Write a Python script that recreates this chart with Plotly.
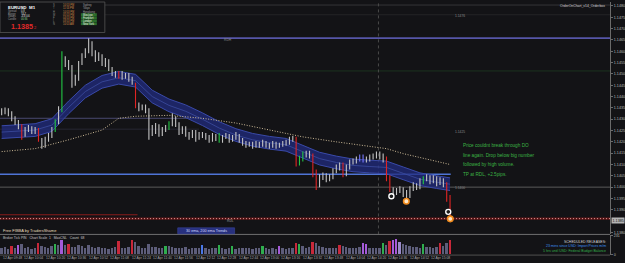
import pandas as pd
import plotly.graph_objects as go

# ---------------- data ----------------
SYMBOL = "EURUSD"
TIMEFRAME = "M1"
BID_TEXT = "1.1385"
BID_EXTRA = "2"
BID_PRICE = 1.13852

bar_start = "2016-04-12 09:48:30"
bar_step_seconds = 150

bar_high = [
    1.14348, 1.14352, 1.14348, 1.14335, 1.14313, 1.14296, 1.14278, 1.14265, 1.14274, 1.14269,
    1.14265, 1.14261, 1.14217, 1.14222, 1.14239, 1.14265, 1.14300, 1.14357, 1.14600, 1.14578,
    1.14561, 1.14539, 1.14496, 1.14557, 1.14591, 1.14613, 1.14657, 1.14644, 1.14604, 1.14596,
    1.14587, 1.14570, 1.14565, 1.14530, 1.14513, 1.14513, 1.14513, 1.14504, 1.14504, 1.14487,
    1.14461, 1.14374, 1.14365, 1.14365, 1.14348, 1.14274, 1.14283, 1.14278, 1.14265, 1.14274,
    1.14291, 1.14326, 1.14313, 1.14287, 1.14269, 1.14269, 1.14243, 1.14252, 1.14252, 1.14243,
    1.14243, 1.14239, 1.14230, 1.14239, 1.14235, 1.14239, 1.14230, 1.14239, 1.14235, 1.14230,
    1.14243, 1.14235, 1.14217, 1.14204, 1.14200, 1.14200, 1.14204, 1.14200, 1.14209, 1.14204,
    1.14196, 1.14204, 1.14200, 1.14196, 1.14204, 1.14209, 1.14222, 1.14226, 1.14222, 1.14139,
    1.14157, 1.14161, 1.14161, 1.14148, 1.14078, 1.14057, 1.14065, 1.14061, 1.14057, 1.14083,
    1.14100, 1.14109, 1.14109, 1.14100, 1.14122, 1.14126, 1.14135, 1.14144, 1.14144, 1.14135,
    1.14144, 1.14148, 1.14157, 1.14157, 1.14148, 1.14135, 1.14052, 1.14000, 1.13996, 1.14004,
    1.14000, 1.13987, 1.14004, 1.14022, 1.14017, 1.14039, 1.14048, 1.14057, 1.14052, 1.14052,
    1.14048, 1.14044, 1.14039, 1.14022, 1.13965]

bar_low = [
    1.14317, 1.14322, 1.14313, 1.14291, 1.14274, 1.14256, 1.14209, 1.14222, 1.14243, 1.14235,
    1.14235, 1.14200, 1.14170, 1.14174, 1.14200, 1.14217, 1.14243, 1.14278, 1.14331, 1.14530,
    1.14517, 1.14439, 1.14448, 1.14470, 1.14539, 1.14570, 1.14591, 1.14578, 1.14552, 1.14557,
    1.14535, 1.14530, 1.14513, 1.14491, 1.14483, 1.14478, 1.14474, 1.14478, 1.14465, 1.14452,
    1.14348, 1.14335, 1.14339, 1.14326, 1.14209, 1.14226, 1.14235, 1.14222, 1.14226, 1.14243,
    1.14252, 1.14269, 1.14265, 1.14230, 1.14235, 1.14222, 1.14209, 1.14217, 1.14200, 1.14209,
    1.14217, 1.14209, 1.14196, 1.14200, 1.14204, 1.14196, 1.14196, 1.14213, 1.14196, 1.14200,
    1.14209, 1.14196, 1.14183, 1.14174, 1.14178, 1.14170, 1.14174, 1.14174, 1.14178, 1.14174,
    1.14170, 1.14174, 1.14170, 1.14174, 1.14178, 1.14183, 1.14187, 1.14200, 1.14091, 1.14096,
    1.14113, 1.14131, 1.14126, 1.14044, 1.13987, 1.14000, 1.14031, 1.14022, 1.14026, 1.14035,
    1.14061, 1.14074, 1.14044, 1.14048, 1.14078, 1.14100, 1.14104, 1.14113, 1.14109, 1.14109,
    1.14113, 1.14122, 1.14126, 1.14122, 1.14109, 1.14026, 1.13978, 1.13961, 1.13965, 1.13974,
    1.13956, 1.13939, 1.13952, 1.13983, 1.13987, 1.13991, 1.14013, 1.14026, 1.14013, 1.14017,
    1.14004, 1.14009, 1.14000, 1.13935, 1.13856]

bar_special = {6: "red", 11: "red", 16: "green", 18: "green", 35: "red", 40: "red",
               50: "green", 65: "green", 88: "red", 89: "green", 90: "green", 93: "red",
               94: "red", 102: "red", 107: "blue", 108: "blue", 115: "red", 116: "red",
               126: "green", 133: "red", 134: "red"}

volume = [
    70, 85, 60, 95, 80, 110, 120, 75, 90, 65,
    80, 130, 95, 85, 70, 100, 125, 110, 175, 115,
    120, 90, 85, 105, 95, 80, 115, 90, 75, 85,
    70, 80, 65, 75, 85, 160, 70, 80, 90, 165,
    150, 95, 75, 80, 120, 90, 85, 70, 75, 95,
    100, 85, 80, 75, 70, 90, 65, 80, 75, 70,
    110, 80, 65, 70, 75, 105, 70, 65, 75, 100,
    65, 70, 80, 75, 70, 65, 80, 70, 95, 70,
    65, 70, 60, 100, 70, 65, 75, 80, 140, 120,
    95, 80, 85, 150, 130, 100, 85, 80, 75, 70,
    80, 110, 95, 85, 80, 75, 80, 90, 130, 125,
    80, 75, 70, 75, 140, 110, 160, 175, 185, 150,
    120, 110, 95, 90, 85, 80, 120, 90, 85, 80,
    90, 130, 100, 140, 165]
volume_max_label = 231

volume_special = {3: "red", 5: "violet", 11: "red", 16: "green", 18: "violet", 20: "red",
                  35: "red", 39: "red", 49: "green", 60: "blue", 65: "green", 69: "green",
                  78: "green", 83: "violet", 88: "red", 89: "green", 93: "red", 101: "red",
                  108: "violet", 109: "violet", 114: "green", 116: "red", 117: "violet",
                  118: "violet", 119: "lilac", 126: "green", 131: "red", 134: "red"}

# 30 EMA ribbon (sampled at bar indices)
ema_idx = [0, 10, 15, 20, 25, 30, 35, 40, 45, 50, 55, 60, 65, 70, 75, 80, 85, 90, 95,
           100, 105, 110, 115, 120, 125, 130, 134]
ema_upper = [1.14271, 1.14280, 1.14302, 1.14380, 1.14450, 1.14493, 1.14511, 1.14498, 1.14428,
             1.14389, 1.14363, 1.14328, 1.14289, 1.14258, 1.14237, 1.14224, 1.14215, 1.14185,
             1.14154, 1.14137, 1.14124, 1.14119, 1.14115, 1.14089, 1.14063, 1.14050, 1.14041]
ema_mid = [1.14243, 1.14252, 1.14274, 1.14352, 1.14422, 1.14465, 1.14483, 1.14470, 1.14400,
           1.14361, 1.14335, 1.14300, 1.14261, 1.14230, 1.14209, 1.14196, 1.14187, 1.14157,
           1.14126, 1.14109, 1.14096, 1.14091, 1.14087, 1.14061, 1.14035, 1.14022, 1.14013]
ema_lower = [1.14215, 1.14224, 1.14246, 1.14324, 1.14394, 1.14437, 1.14455, 1.14442, 1.14372,
             1.14333, 1.14307, 1.14272, 1.14233, 1.14202, 1.14181, 1.14168, 1.14159, 1.14129,
             1.14098, 1.14081, 1.14068, 1.14063, 1.14059, 1.14033, 1.14007, 1.13994, 1.13985]

# 200 EMA (dotted)
ema200_idx = [0, 10, 20, 30, 35, 40, 50, 60, 70, 80, 90, 100, 110, 115, 120, 125, 130, 134]
ema200 = [1.14157, 1.14170, 1.14209, 1.14252, 1.14304, 1.14313, 1.14317, 1.14304, 1.14283,
          1.14252, 1.14222, 1.14200, 1.14178, 1.14170, 1.14148, 1.14131, 1.14113, 1.14100]

# trade markers
marker_time = ["2016-04-12 14:39:40", "2016-04-12 14:50:50", "2016-04-12 15:22:10", "2016-04-12 15:23:40"]
marker_price = [1.13960, 1.13938, 1.13891, 1.13860]
marker_kind = ["white", "orange", "white", "orange"]

# horizontal levels
level_top = 1.14804
level_faint = 1.14761
level_rdh = 1.14658
level_green = 1.14513
level_left_a = 1.14304
level_left_b = 1.14256
level_do = 1.14057
level_big = 1.14000
level_red = 1.13878
level_rdl = 1.13861
left_lines_end = "2016-04-12 12:16"
do_line_end = "2016-04-12 15:24"
red_line_end = "2016-04-12 11:30"
separator_time = "2016-04-12 14:30"

# right-axis labels (the 1.1385 slot is covered by the bid tag)
price_ticks = [1.1380, 1.1390, 1.1395, 1.1400, 1.1405, 1.1410, 1.1415, 1.1420, 1.1425,
               1.1430, 1.1435, 1.1440, 1.1445, 1.1450, 1.1455, 1.1460, 1.1465, 1.1470, 1.1475, 1.1480]

time_labels = ["12 Apr 09:48", "12 Apr 10:04", "12 Apr 10:20", "12 Apr 10:36", "12 Apr 10:52",
               "12 Apr 11:08", "12 Apr 11:24", "12 Apr 11:40", "12 Apr 11:56", "12 Apr 12:12",
               "12 Apr 12:28", "12 Apr 12:44", "12 Apr 13:00", "12 Apr 13:16", "12 Apr 13:32",
               "12 Apr 13:48", "12 Apr 14:04", "12 Apr 14:20", "12 Apr 14:36", "12 Apr 14:52",
               "12 Apr 15:08"]

info_labels = ["Spread", "Range", "Swaps", "Candle"]
info_values = ["0.8", "74.7", "-4.6 0.6", "00:36"]
session_letters = ["S", "T", "H", "M", "F", "L", "N"]
session_times = ["10:53 PM", "11:53 PM", "10:53 PM", "05:53 PM", "04:53 PM", "03:53 PM", "10:53 AM"]
session_names = ["Sydney", "Tokyo", "Hongkong", "Moscow", "Frankfurt", "London", "New York"]
session_open = [False, False, False, True, True, True, True]

note_lines = ["Price couldnt break through DO", "line again. Drop below big number",
              "followed by high volume.", "TP at RDL, +2.5pips."]
release_lines = ["SCHEDULED RELEASES:", "23 mins since USD: Import Prices m/m",
                 "5 hrs until USD: Federal Budget Balance"]

# ---------------- styling / layout ----------------
W, H = 625, 263
BG = "#131316"
FONT = "Liberation Sans, Arial, sans-serif"
XR = 611 / W


def py(px):
    return 1 - px / H


def pxr(px):
    return px / W


bar_times = [pd.Timestamp(bar_start) + pd.Timedelta(seconds=bar_step_seconds * i)
             for i in range(len(bar_high))]
x_range = ["2016-04-12 09:47:15", "2016-04-12 17:23:01"]

candle_colors = {"normal": "#c4c4c4", "red": "#e02424", "green": "#22c844", "blue": "#7777ff"}
vol_colors = {"normal": "#5d5d7a", "red": "#c8283a", "green": "#2fae4e", "blue": "#4a78e8",
              "violet": "#a45ad8", "lilac": "#9a8ac8"}

fig = go.Figure()

# EMA ribbon
rx = [bar_times[i] for i in ema_idx]
fig.add_trace(go.Scatter(x=rx, y=ema_upper, mode="lines", line=dict(color="#3a4aa8", width=1),
                         hoverinfo="skip"))
fig.add_trace(go.Scatter(x=rx, y=ema_lower, mode="lines", line=dict(color="#3a4aa8", width=1),
                         fill="tonexty", fillcolor="rgba(34,44,128,0.75)", hoverinfo="skip"))
fig.add_trace(go.Scatter(x=rx, y=ema_mid, mode="lines", line=dict(color="#3c4ca0", width=0.8),
                         hoverinfo="skip"))

# 200 EMA dotted
fig.add_trace(go.Scatter(x=[bar_times[i] for i in ema200_idx], y=ema200, mode="lines",
                         line=dict(color="#cdbb98", width=1, dash="1px,1.6px"), hoverinfo="skip"))

# price bars (MT4 compressed bars: vertical high-low strokes)
groups = {}
for i, (hi, lo) in enumerate(zip(bar_high, bar_low)):
    key = bar_special.get(i, "normal")
    gx, gy = groups.setdefault(key, ([], []))
    gx += [bar_times[i], bar_times[i], None]
    gy += [lo, hi, None]
for key in ["normal", "green", "red", "blue"]:
    if key in groups:
        gx, gy = groups[key]
        fig.add_trace(go.Scatter(x=gx, y=gy, mode="lines",
                                 line=dict(color=candle_colors[key], width=1.1), hoverinfo="skip"))

# markers
for kind in ["white", "orange"]:
    mx = [t for t, k in zip(marker_time, marker_kind) if k == kind]
    my = [p for p, k in zip(marker_price, marker_kind) if k == kind]
    if kind == "white":
        mk = dict(symbol="circle", size=5, color="#1a1a1a", line=dict(color="#ffffff", width=1.4))
    else:
        mk = dict(symbol="circle", size=5.5, color="#ffe8c8", line=dict(color="#f08a1c", width=1.6))
    fig.add_trace(go.Scatter(x=mx, y=my, mode="markers", marker=mk, hoverinfo="skip"))

# volume
fig.add_trace(go.Bar(x=bar_times, y=volume, yaxis="y2",
                     marker=dict(color=[vol_colors[volume_special.get(i, "normal")]
                                        for i in range(len(volume))], line=dict(width=0)),
                     width=bar_step_seconds * 1000 * 0.55, hoverinfo="skip"))

MAIN_BOTTOM = 236
SUB_TOP, SUB_BOTTOM = 237, 256.5

fig.update_layout(
    width=W, height=H, margin=dict(l=0, r=0, t=0, b=0),
    paper_bgcolor=BG, plot_bgcolor=BG, showlegend=False,
    font=dict(family=FONT, color="#c0c0c0"),
    bargap=0,
    xaxis=dict(domain=[0, XR], range=x_range, type="date", showgrid=False, zeroline=False,
               showticklabels=False, showline=False, fixedrange=True),
    yaxis=dict(domain=[py(MAIN_BOTTOM), 1], range=[1.137913, 1.148174], side="right", anchor="x",
               tickvals=price_ticks, ticktext=[f"{v:.4f}" for v in price_ticks],
               tickfont=dict(size=3.7, color="#b8b8b8"), ticks="outside", ticklen=2,
               tickcolor="#6a6a6a", showgrid=False, zeroline=False, showline=True,
               linecolor="#6a6a6a", linewidth=1),
    yaxis2=dict(domain=[py(SUB_BOTTOM), py(SUB_TOP)], range=[0, volume_max_label], side="right",
                anchor="x", tickvals=[0, volume_max_label], ticktext=["0", str(volume_max_label)],
                tickfont=dict(size=3.7, color="#b8b8b8"), ticks="outside", ticklen=2,
                tickcolor="#6a6a6a", showgrid=False, zeroline=False, showline=True,
                linecolor="#6a6a6a", linewidth=1),
)

shapes = []


def hline(y, color, width=1, dash="solid", x0=None, x1=None, layer="below"):
    if x0 is None and x1 is None:
        shapes.append(dict(type="line", xref="paper", yref="y", x0=0, x1=XR, y0=y, y1=y,
                           line=dict(color=color, width=width, dash=dash), layer=layer))
    else:
        shapes.append(dict(type="line", xref="x", yref="y", x0=x0 or x_range[0], x1=x1 or x_range[1],
                           y0=y, y1=y, line=dict(color=color, width=width, dash=dash), layer=layer))


hline(level_top, "#353538", 1)
hline(level_faint, "#242427", 1)
hline(level_rdh, "#5656a8", 1.6)
hline(level_green, "#1c331f", 1)
hline(level_left_a, "#4a4a70", 1, x1=left_lines_end)
hline(level_left_b, "#262633", 1, x1=left_lines_end)
hline(level_do, "#4f74d6", 1.3, x1=do_line_end)
hline(level_big, "#5a5a5a", 1)
hline(level_red, "#8a1c1c", 1, x1=red_line_end)
hline(level_rdl, "#5e1818", 2.4)
hline(level_rdl, "#d89090", 1, dash="1px,2px")

# vertical separator
shapes.append(dict(type="line", xref="x", yref="paper", x0=separator_time, x1=separator_time,
                   y0=py(MAIN_BOTTOM), y1=1, line=dict(color="#4a4a4a", width=1, dash="dot"),
                   layer="below"))
# panel separators
shapes.append(dict(type="line", xref="paper", yref="paper", x0=0, x1=XR, y0=py(MAIN_BOTTOM),
                   y1=py(MAIN_BOTTOM), line=dict(color="#707070", width=1)))
shapes.append(dict(type="line", xref="paper", yref="paper", x0=0, x1=XR, y0=py(257),
                   y1=py(257), line=dict(color="#505050", width=1)))
# info panel box
shapes.append(dict(type="rect", xref="paper", yref="paper", x0=0, x1=pxr(105), y0=py(31), y1=1,
                   fillcolor=BG, line=dict(color="#555555", width=0.8), layer="above"))
for k, is_open in enumerate(session_open):
    if is_open:
        yc = 3.5 + 3.1 * k
        shapes.append(dict(type="rect", xref="paper", yref="paper", x0=pxr(81), x1=pxr(97),
                           y0=py(yc + 1.4), y1=py(yc - 1.4), fillcolor="#2a6e2a",
                           line=dict(width=0), layer="above"))
# ema trends box
shapes.append(dict(type="rect", xref="paper", yref="paper", x0=pxr(178), x1=pxr(235),
                   y0=py(235.3), y1=py(229.3), fillcolor="#27307e",
                   line=dict(color="#3a44a0", width=0.6), layer="above"))
fig.update_layout(shapes=shapes)

ann = []


def text(x, y, s, size, color, xanchor="left", bold=False, bg=None, yanchor="middle", xref="paper"):
    d = dict(x=x, y=y, xref=xref, yref="paper", text=f"<b>{s}</b>" if bold else s,
             showarrow=False, xanchor=xanchor, yanchor=yanchor,
             font=dict(size=size, color=color, family=FONT), borderpad=0)
    if bg:
        d["bgcolor"] = bg
    ann.append(d)


# info panel
text(pxr(7), py(5.5), f"{SYMBOL}\u00a0\u00a0{TIMEFRAME}", 4.4, "#ffffff", bold=True)
for k, (lab, val) in enumerate(zip(info_labels, info_values)):
    yv = 9.3 + 2.7 * k
    text(pxr(7), py(yv), lab, 2.6, "#9a9a9a")
    text(pxr(20), py(yv), val, 2.6, "#8fd88f" if lab == "Candle" else "#e8e8e8")
text(pxr(10), py(24.5), f"{BID_TEXT}", 7.2, "#e02a2a", bold=True)
text(pxr(33), py(25.5), BID_EXTRA, 4, "#e02a2a")
for k in range(len(session_names)):
    yc = 3.5 + 3.1 * k
    text(pxr(52), py(yc), session_letters[k], 2.6, "#8a8a8a")
    text(pxr(62), py(yc), session_times[k], 2.6, "#d8904a")
    text(pxr(82), py(yc), session_names[k], 2.6, "#e8e8e8" if session_open[k] else "#a0a0a0")

text(pxr(607), py(4.5), "OrderOnChart_v14_Orderbox", 3.4, "#d0d0d0", xanchor="right")

# level labels
text(pxr(223), py(39), "RDH", 3.3, "#8a8a8a")
text(pxr(226), py(222.5), "RDL", 3.3, "#9a9a9a")
text(pxr(455), py(14.5), "1.1476", 3.3, "#8a8a8a")
text(pxr(455), py(131.5), "1.1425", 3.3, "#8a8a8a")
text(pxr(455), py(189), "1.1400", 3.3, "#8a8a8a")

# comment
for k, line in enumerate(note_lines):
    text(pxr(463), py(146 + 9.7 * k), line, 4.7, "#3cb445")

# bottom labels
text(pxr(2), py(232.3), "Free FIBBA by TradersShame", 4, "#e6dfbf")
text(pxr(206.5), py(232.3), "30 ema, 200 ema Trends", 3.7, "#d8dcff", xanchor="center")
text(pxr(2), py(239.5), "Broker Tick PIN\u00a0\u00a0\u00a0Chart Scale\u00a0\u00a01\u00a0\u00a0\u00a0MaxCNL\u00a0\u00a0\u00a0Count\u00a0\u00a068",
     3.4, "#c8c8c8")
rel_colors = ["#d6d6d6", "#3f92ee", "#33b24a"]
for k, line in enumerate(release_lines):
    text(pxr(608), py(244 + 4.2 * k), line, 3.5, rel_colors[k], xanchor="right")

# time axis labels
for lab in time_labels:
    t = pd.to_datetime("2016 " + lab, format="%Y %d %b %H:%M")
    ann.append(dict(x=t, y=py(260), xref="x", yref="paper", text=lab, showarrow=False,
                    xanchor="left", yanchor="middle", font=dict(size=3.4, color="#a8a8a8", family=FONT)))

# bid price tag on axis
ann.append(dict(x=XR + 0.002, y=BID_PRICE, xref="paper", yref="y", text=BID_TEXT,
                showarrow=False, xanchor="left", yanchor="middle", bgcolor="#b4b4b4",
                font=dict(size=3.7, color="#111111", family=FONT), borderpad=0.5))

fig.update_layout(annotations=ann)
fig.write_html("out.html")
